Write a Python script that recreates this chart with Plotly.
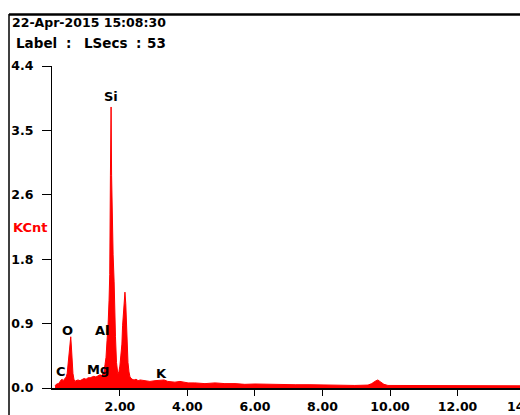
import plotly.graph_objects as go

# EDS spectrum: energy (keV) vs counts (KCnt)
energy_kev = [
    0.08, 0.11, 0.14, 0.17, 0.20, 0.23, 0.26, 0.29, 0.32, 0.35, 0.38, 0.41,
    0.44, 0.46, 0.49, 0.52, 0.545, 0.565, 0.58, 0.61, 0.64, 0.67, 0.70, 0.76,
    0.82, 0.88, 0.94, 1.00, 1.06, 1.12, 1.18, 1.23, 1.29, 1.35, 1.41, 1.47,
    1.53, 1.56, 1.59, 1.62, 1.65, 1.68, 1.70, 1.72, 1.74, 1.755, 1.78, 1.80,
    1.83, 1.85, 1.87, 1.90, 1.92, 1.94, 1.97, 2.00, 2.03, 2.06, 2.08, 2.11,
    2.13, 2.15, 2.175, 2.20, 2.22, 2.24, 2.27, 2.30, 2.36, 2.42, 2.48, 2.54,
    2.60, 2.74, 2.89, 3.04, 3.19, 3.31, 3.42, 3.63, 3.78, 4.02, 4.22, 4.52,
    4.82, 5.11, 5.41, 5.70, 6.00, 6.30, 6.74, 7.19, 7.63, 8.07, 8.52, 8.96,
    9.35, 9.46, 9.55, 9.64, 9.73, 9.82, 9.94, 10.30, 10.88, 11.48, 12.07,
    12.66, 13.25, 13.85,
]
counts_kcnt = [
    0.03, 0.05, 0.06, 0.05, 0.08, 0.09, 0.11, 0.12, 0.10, 0.12, 0.14, 0.15,
    0.20, 0.30, 0.42, 0.50, 0.70, 0.56, 0.40, 0.20, 0.12, 0.09, 0.10, 0.11,
    0.10, 0.12, 0.13, 0.12, 0.14, 0.14, 0.15, 0.16, 0.15, 0.17, 0.18, 0.17,
    0.22, 0.32, 0.42, 0.65, 0.85, 1.20, 1.55, 2.90, 3.84, 2.90, 2.10, 1.82,
    1.45, 0.95, 0.70, 0.35, 0.22, 0.19, 0.22, 0.30, 0.45, 0.60, 0.85, 1.05,
    1.20, 1.31, 1.15, 0.85, 0.55, 0.35, 0.22, 0.15, 0.12, 0.11, 0.12, 0.10,
    0.11, 0.10, 0.09, 0.10, 0.10, 0.11, 0.09, 0.08, 0.09, 0.07, 0.07, 0.06,
    0.07, 0.06, 0.06, 0.05, 0.055, 0.05, 0.05, 0.045, 0.045, 0.04, 0.04, 0.035,
    0.04, 0.06, 0.09, 0.11, 0.08, 0.05, 0.035, 0.035, 0.03, 0.035, 0.03,
    0.03, 0.035, 0.03,
]

y_tick_vals = [0.0, 0.88, 1.76, 2.64, 3.52, 4.4]
y_tick_text = ["0.0", "0.9", "1.8", "2.6", "3.5", "4.4"]
x_tick_vals = [2, 4, 6, 8, 10, 12]
x_tick_text = ["2.00", "4.00", "6.00", "8.00", "10.00", "12.00"]
# last tick label sits on the right edge of the window
x_edge_tick_text = "14.00"

# element line labels: (name, keV, KCnt)
element_labels = [
    ("Si", 1.73, 3.98),
    ("O", 0.45, 0.78),
    ("Al", 1.49, 0.79),
    ("C", 0.27, 0.22),
    ("Mg", 1.35, 0.25),
    ("K", 3.24, 0.205),
]

header_date = "22-Apr-2015 15:08:30"
# second header line, word by word with the centre pixel of each word
header_label_parts = [("Label", 36), (":", 68.5), ("LSecs", 106), (":", 138.5), ("53", 156)]

W, H = 520, 415
ML, MR, MT, MB = 52, 0, 66, 27
FONT = "DejaVu Sans"


def px_x(px):
    return (px - ML) / (W - ML - MR)


def px_y(py):
    return (H - MB - py) / (H - MT - MB)


fig = go.Figure()
fig.add_trace(go.Scatter(
    x=energy_kev, y=counts_kcnt,
    mode="lines", line=dict(color="#ff0000", width=1),
    fill="tozeroy", fillcolor="#ff0000",
    hoverinfo="skip", showlegend=False,
))

annotations = []
for name, ex, ey in element_labels:
    annotations.append(dict(
        x=ex, y=ey, xref="x", yref="y", text=name, showarrow=False,
        font=dict(family=FONT, size=13, color="black", weight="bold"),
        xanchor="center", yanchor="middle",
    ))

annotations.append(dict(
    x=px_x(10), y=px_y(23), xref="paper", yref="paper", text=header_date,
    showarrow=False, xanchor="left", yanchor="middle",
    font=dict(family=FONT, size=12.5, color="black", weight="bold")))

for word, centre_px in header_label_parts:
    annotations.append(dict(
        x=px_x(centre_px), y=px_y(42.5), xref="paper", yref="paper", text=word,
        showarrow=False, xanchor="center", yanchor="middle",
        font=dict(family=FONT, size=13.5, color="black", weight="bold")))

annotations += [
    dict(x=px_x(11), y=px_y(228), xref="paper", yref="paper", text="KCnt",
         showarrow=False, xanchor="left", yanchor="middle",
         font=dict(family=FONT, size=13, color="#ff0000", weight="bold")),
    dict(x=px_x(526.5), y=px_y(406.5), xref="paper", yref="paper",
         text=x_edge_tick_text, showarrow=False, xanchor="center", yanchor="middle",
         font=dict(family=FONT, size=12.5, color="black", weight="bold")),
]

shapes = [
    dict(type="line", xref="paper", yref="paper",
         x0=px_x(9), x1=px_x(W + 2), y0=px_y(14.5), y1=px_y(14.5),
         line=dict(color="black", width=2.5)),
    dict(type="line", xref="paper", yref="paper",
         x0=px_x(9), x1=px_x(9), y0=px_y(14), y1=px_y(H + 2),
         line=dict(color="black", width=1.5)),
]

fig.update_layout(
    width=W, height=H,
    margin=dict(l=ML, r=MR, t=MT, b=MB, pad=0),
    paper_bgcolor="white", plot_bgcolor="white",
    showlegend=False,
    annotations=annotations,
    shapes=shapes,
    xaxis=dict(
        range=[-0.01, 13.85], showgrid=False, zeroline=False,
        showline=True, linecolor="black", linewidth=2,
        ticks="outside", ticklen=6, tickwidth=1, tickcolor="black",
        tickvals=x_tick_vals, ticktext=x_tick_text,
        tickfont=dict(family=FONT, size=12.5, color="black", weight="bold"),
    ),
    yaxis=dict(
        range=[0, 4.4], showgrid=False, zeroline=False,
        showline=True, linecolor="black", linewidth=1,
        ticks="outside", ticklen=9, tickwidth=1, tickcolor="black",
        tickvals=y_tick_vals, ticktext=y_tick_text,
        tickfont=dict(family=FONT, size=12.5, color="black", weight="bold"),
        ticklabelstandoff=6,
    ),
)

fig.write_html("out.html")
